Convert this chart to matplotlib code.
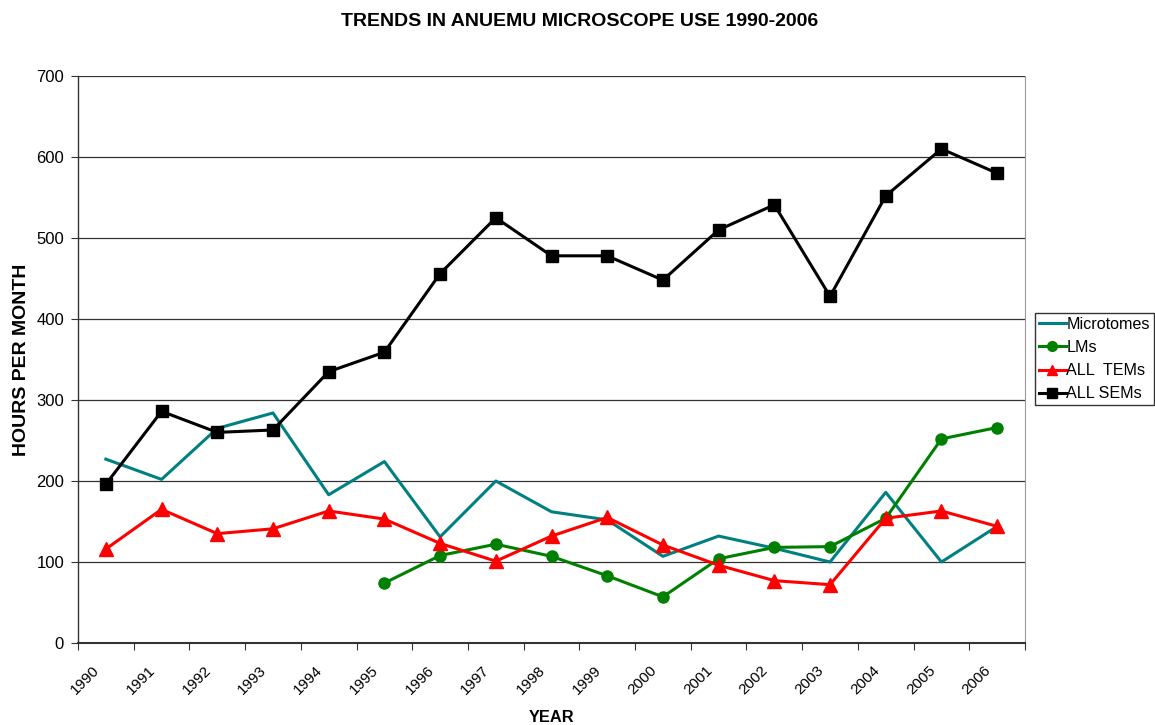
import matplotlib
matplotlib.use("Agg")
import matplotlib.pyplot as plt
import matplotlib.transforms as mtransforms
import numpy as np

years = [str(y) for y in range(1990, 2007)]
microtomes = [227, 202, 265, 284, 183, 224, 131, 200, 162, 152, 107, 132, 117, 100, 186, 100, 144]
lms = [None, None, None, None, None, 74, 108, 122, 107, 83, 57, 104, 118, 119, 154, 252, 266]
tems = [116, 165, 135, 141, 163, 153, 123, 101, 132, 155, 121, 96, 77, 72, 154, 163, 144]
sems = [196, 286, 260, 263, 335, 359, 456, 525, 478, 478, 448, 510, 541, 428, 552, 610, 580]

plt.rcParams['font.family'] = ['Liberation Sans', 'DejaVu Sans']

fig = plt.figure(figsize=(11.55, 7.25), dpi=100)
ax = fig.add_axes([78/1155, 1-643/725, (1025-78)/1155, (643-76)/725])

x = np.arange(len(years))
lm_x = [i for i, v in enumerate(lms) if v is not None]
lm_y = [v for v in lms if v is not None]

ax.plot(x, microtomes, color='#008080', lw=2.2, label='Microtomes', zorder=3)
ax.plot(lm_x, lm_y, color='#008000', lw=2.2, marker='o', ms=8, label='LMs', zorder=4)
ax.plot(x, tems, color='#FF0000', lw=2.2, marker='^', ms=10, label='ALL  TEMs', zorder=5)
ax.plot(x, sems, color='black', lw=2.2, marker='s', ms=8.5, label='ALL SEMs', zorder=6)

ax.set_xlim(-0.5, len(years) - 0.5)
ax.set_ylim(0, 700)
ax.set_yticks(range(0, 701, 100))
ax.yaxis.grid(True, color='#333333', lw=0.9)
ax.set_axisbelow(True)

ax.set_xticks(np.arange(-0.5, len(years), 1.0))
ax.set_xticklabels([])
ax.tick_params(axis='x', which='major', length=5, direction='out', color='#333333')
ax.tick_params(axis='y', length=5, direction='out', labelsize=12, color='#333333', pad=5)

# rotated category labels, top-right corner just left of each category centre
offset = mtransforms.ScaledTranslation(-3.5/100, -20/100, fig.dpi_scale_trans)
trans = mtransforms.blended_transform_factory(ax.transData, ax.transAxes) + offset
for xi, lab in zip(x, years):
    ax.text(xi, 0, lab, transform=trans, rotation=45, ha='right', va='top',
            fontsize=11, clip_on=False)

ax.spines['top'].set_visible(False)
ax.spines['right'].set_color('#999999')
ax.spines['left'].set_color('#333333')
ax.spines['bottom'].set_color('#333333')
ax.spines['bottom'].set_linewidth(1.5)
ax.spines['left'].set_linewidth(1.0)

fig.text(580/1155, 1-22/725, 'TRENDS IN ANUEMU MICROSCOPE USE 1990-2006', ha='center', va='center',
         fontsize=14, fontweight='bold')
fig.text(552/1155, 1-717/725, 'YEAR', ha='center', va='center', fontsize=11.8, fontweight='bold')
fig.text(22/1155, 1-360/725, 'HOURS PER MONTH', ha='center', va='center', rotation=90,
         fontsize=14, fontweight='bold')

leg = fig.legend(loc='upper left', bbox_to_anchor=(1035/1155, 1-313/725), fontsize=11.6,
                 frameon=True, fancybox=False, edgecolor='black', borderpad=0.25,
                 labelspacing=0.5, handlelength=1.65, handletextpad=0.05, borderaxespad=0)
leg.get_frame().set_linewidth(1.0)
for h in leg.legend_handles:
    h.set_markersize(7)

fig.savefig('out.png', dpi=100, facecolor='white')
